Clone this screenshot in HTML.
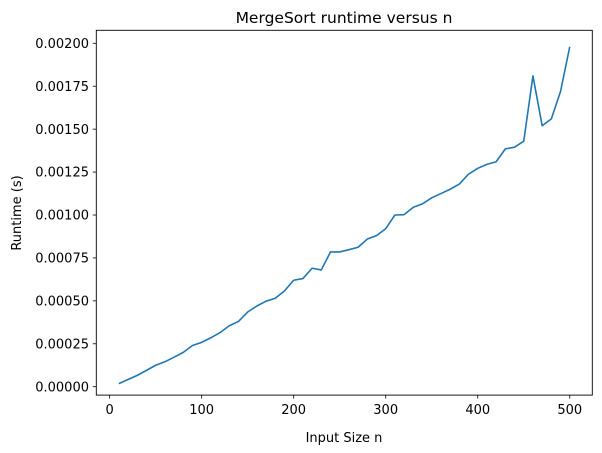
<!DOCTYPE html>
<html><head><meta charset="utf-8"><style>
body{margin:0;background:#fff;}
svg{display:block;font-family:"DejaVu Sans","Liberation Sans",sans-serif;}
</style></head><body>
<svg id="chart" width="602" height="453" xmlns="http://www.w3.org/2000/svg">
<rect x="0" y="0" width="602" height="453" fill="#fff"/>
<text x="344" y="23" text-anchor="middle" font-size="15.5" fill="#000">MergeSort runtime versus n</text>
<g id="xt"></g>
<g id="yt"></g>
<path id="line" fill="none" stroke="#1f77b4" stroke-width="1.6" stroke-linejoin="round"/>
<rect x="96.3" y="30.3" width="496" height="364.8" fill="none" stroke="#000" stroke-width="0.9"/>
<text x="344" y="442" text-anchor="middle" font-size="13" fill="#000">Input Size n</text>
<text transform="translate(21,213) rotate(-90)" text-anchor="middle" font-size="13" fill="#000">Runtime (s)</text>
</svg>
<script>
const sizes=[10,20,30,40,50,60,70,80,90,100,110,120,130,140,150,160,170,180,190,200,210,220,230,240,250,260,270,280,290,300,310,320,330,340,350,360,370,380,390,400,410,420,430,440,450,460,470,480,490,500];
const runtimes=[0.000018,0.000042,0.000066,0.000095,0.000125,0.000145,0.000172,0.000200,0.000240,0.000258,0.000285,0.000315,0.000355,0.000380,0.000435,0.000470,0.000498,0.000515,0.000558,0.000620,0.000630,0.000690,0.000680,0.000785,0.000785,0.000798,0.000812,0.000860,0.000880,0.000920,0.001000,0.001002,0.001045,0.001065,0.001100,0.001125,0.001150,0.001180,0.001238,0.001272,0.001295,0.001310,0.001385,0.001395,0.001430,0.001810,0.001520,0.001560,0.001720,0.001980];
const xTicks=[0,100,200,300,400,500];
const yTicks=[0,0.00025,0.0005,0.00075,0.001,0.00125,0.0015,0.00175,0.002];
const NS="http://www.w3.org/2000/svg";
function xs(v){return 96.3+(v+14.5)/539*496;}
function ys(v){return 386.7-v/0.002*343.4;}
function mk(t,a,p){const e=document.createElementNS(NS,t);for(const k in a)e.setAttribute(k,a[k]);p.appendChild(e);return e;}
const xt=document.getElementById('xt'),yt=document.getElementById('yt');
xTicks.forEach(v=>{
 const l=mk('line',{x1:xs(v),x2:xs(v),y1:395.1,y2:398.6,stroke:'#000','stroke-width':0.8},xt);
 
 
 const t=mk('text',{x:xs(v),y:414,'text-anchor':'middle','font-size':13,fill:'#000'},xt);
 t.textContent=v;
 
 
});
yTicks.forEach(v=>{
 const l=mk('line',{x1:92.8,x2:96.3,y1:ys(v),y2:ys(v),stroke:'#000','stroke-width':0.8},yt);
 
 
 const t=mk('text',{x:89,y:ys(v)+4.6,'text-anchor':'end','font-size':13,fill:'#000'},yt);
 t.textContent=v.toFixed(5);
 
 
});
document.getElementById('line').setAttribute('d',sizes.map((n,i)=>(i?'L':'M')+xs(n).toFixed(2)+','+ys(runtimes[i]).toFixed(2)).join(''));
</script>
</body></html>
